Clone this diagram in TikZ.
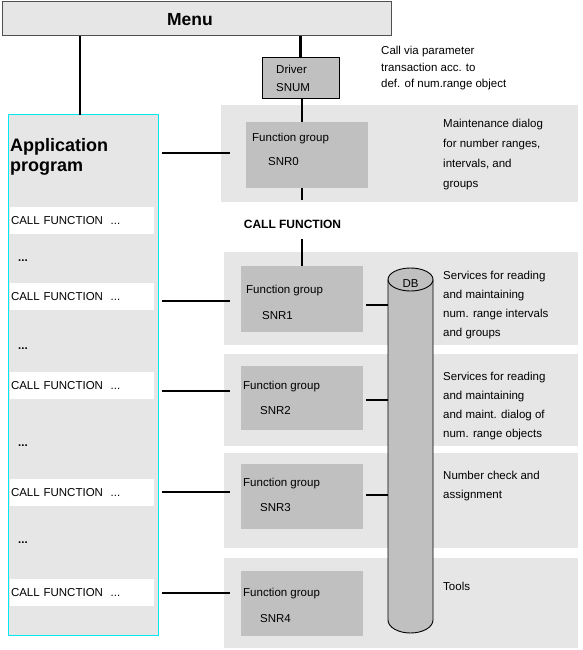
\documentclass[tikz,border=0pt]{standalone}
\usepackage{fontspec}
\setmainfont{Liberation Sans}
\definecolor{lg}{HTML}{E6E6E6}
\definecolor{mg}{HTML}{C0C0C0}
\definecolor{cy}{HTML}{00E8F0}
\definecolor{menuframe}{HTML}{505050}
\begin{document}
\begin{tikzpicture}[x=1pt,y=-1pt,
  box/.style={inner sep=0pt, outer sep=0pt, anchor=north west},
  region/.style={box, fill=lg, draw=none},
  fgbox/.style={box, fill=mg, draw=none},
  strip/.style={box, fill=white, draw=none, minimum width=144, minimum height=27,
    text width=142pt, align=left, inner xsep=1pt, font=\fontsize{11.5}{13}\selectfont},
  txt/.style={inner sep=0pt, anchor=base west, align=left, font=\fontsize{11.5}{19}\selectfont},
  dots/.style={inner sep=0pt, anchor=base west, font=\bfseries\fontsize{11.5}{13}\selectfont},
  conn/.style={line width=2.8pt},
]
\useasboundingbox (0,0) rectangle (583,650);

% Menu
\node[box, fill=lg, draw=menuframe, line width=1pt, minimum width=389, minimum height=34] (menu) at (2,2) {};
\node[inner sep=0pt, font=\bfseries\fontsize{17.5}{20}\selectfont] (menutxt) at (190,19.5) {Menu};

% Application program (base anchor = baseline of last line)
\node[box, fill=lg, draw=cy, line width=1pt, minimum width=150, minimum height=520] (app) at (8,115) {};
\node[txt, font=\bfseries\fontsize{18}{19.5}\selectfont] (apptxt) at (10,171) {Application\\program};
\node[strip] (s1) at (10,207) {CALL FUNCTION\ \ ...};
\node[strip] (s2) at (10,283) {CALL FUNCTION\ \ ...};
\node[strip] (s3) at (10,372) {CALL FUNCTION\ \ ...};
\node[strip] (s4) at (10,479) {CALL FUNCTION\ \ ...};
\node[strip] (s5) at (10,579) {CALL FUNCTION\ \ ...};
\node[dots] (d1) at (18,261) {...};
\node[dots] (d2) at (18,349) {...};
\node[dots] (d3) at (18,446) {...};
\node[dots] (d4) at (18,543) {...};

% Regions
\node[region, minimum width=357, minimum height=97] (r0) at (221,105) {};
\node[region, minimum width=354, minimum height=93] (r1) at (224,252) {};
\node[region, minimum width=354, minimum height=92] (r2) at (224,354) {};
\node[region, minimum width=354, minimum height=95] (r3) at (224,453) {};
\node[region, minimum width=354, minimum height=90] (r4) at (224,558) {};

% Function group boxes
\node[fgbox, minimum width=122, minimum height=66] (fg0) at (246,122) {};
\node[fgbox, minimum width=122, minimum height=66] (fg1) at (241,266) {};
\node[fgbox, minimum width=122, minimum height=64] (fg2) at (241,366) {};
\node[fgbox, minimum width=122, minimum height=65] (fg3) at (241,464) {};
\node[fgbox, minimum width=122, minimum height=65] (fg4) at (241,571) {};
\node[txt, font=\fontsize{11.5}{24}\selectfont] (fg0t) at (252,165) {Function group\\\hspace*{16pt}SNR0};
\node[txt, font=\fontsize{11.5}{26}\selectfont] (fg1t) at (246,319) {Function group\\\hspace*{16pt}SNR1};
\node[txt, font=\fontsize{11.5}{25}\selectfont] (fg2t) at (243,414) {Function group\\\hspace*{17pt}SNR2};
\node[txt, font=\fontsize{11.5}{25}\selectfont] (fg3t) at (243,511) {Function group\\\hspace*{17pt}SNR3};
\node[txt, font=\fontsize{11.5}{26}\selectfont] (fg4t) at (243,622) {Function group\\\hspace*{17pt}SNR4};

% Driver
\node[box, fill=mg, draw=black, line width=0.9pt, minimum width=77, minimum height=41] (driver) at (262,57) {};
\node[txt, font=\fontsize{11.5}{18}\selectfont] (drvt) at (276,92) {Driver\\SNUM};

% Descriptions
\node[txt, font=\fontsize{11.5}{16.5}\selectfont] (calltxt) at (381,88) {Call via parameter\\transaction acc. to\\def. of num.range object};
\node[txt, font=\fontsize{11.5}{20}\selectfont] (desc0) at (443,187.5) {Maintenance dialog\\for number ranges,\\intervals, and\\groups};
\node[txt] (desc1) at (443,336) {Services for reading\\and maintaining\\num. range intervals\\and groups};
\node[txt, font=\fontsize{11.5}{18.7}\selectfont] (desc2) at (443,437) {Services for reading\\and maintaining\\and maint. dialog of\\num. range objects};
\node[txt] (desc3) at (443,498) {Number check and\\assignment};
\node[txt] (desc4) at (443,590) {Tools};

% CALL FUNCTION label
\node[inner sep=0pt, minimum height=30, font=\bfseries\fontsize{12}{14}\selectfont] (cf) at (292.5,224) {CALL FUNCTION};

% DB cylinder
\node[inner sep=0pt, outer sep=0pt, minimum width=45, minimum height=340.5, anchor=north west] (db) at (388,279.5) {};
\fill[mg] (db.north west) -- (db.south west) arc[start angle=180, end angle=360, x radius=22.5pt, y radius=13pt] -- (db.north east) -- cycle;
\draw[line width=0.9pt] (db.north west) -- (db.south west) arc[start angle=180, end angle=360, x radius=22.5pt, y radius=13pt] -- (db.north east);
\filldraw[fill=mg, line width=0.9pt] (db.north) ellipse[x radius=22.5pt, y radius=11.5pt];
\node[inner sep=0pt, font=\fontsize{11.5}{13}\selectfont] (dbt) at (410.5,284) {DB};

% Connector levels
\coordinate (l0) at (0,153);
\coordinate (l1) at (0,301);
\coordinate (l2) at (0,391);
\coordinate (l3) at (0,492);
\coordinate (l4) at (0,593);
\coordinate (m1) at (0,305);
\coordinate (m2) at (0,400);
\coordinate (m3) at (0,495);
\coordinate (vx) at (80,0);
\coordinate (cx) at (302,0);

% Connectors
\draw[conn] (vx |- menu.south) -- (vx |- app.north);
\draw[conn] (driver.north |- menu.south) -- (driver.north);
\draw[conn] (cx |- driver.south) -- (cx |- fg0.north);
\draw[conn, shorten >=9pt] (cx |- fg0.south) -- (cx |- cf.north);
\draw[conn] (cx |- cf.south) -- (cx |- fg1.north);
\draw[conn, shorten <=4pt, shorten >=16pt] (app.east |- l0) -- (fg0.west |- l0);
\draw[conn, shorten <=4pt, shorten >=11pt] (app.east |- l1) -- (fg1.west |- l1);
\draw[conn, shorten <=4pt, shorten >=11pt] (app.east |- l2) -- (fg2.west |- l2);
\draw[conn, shorten <=4pt, shorten >=11pt] (app.east |- l3) -- (fg3.west |- l3);
\draw[conn, shorten <=4pt, shorten >=11pt] (app.east |- l4) -- (fg4.west |- l4);
\draw[conn, shorten <=3pt] (fg1.east |- m1) -- (db.west |- m1);
\draw[conn, shorten <=3pt] (fg2.east |- m2) -- (db.west |- m2);
\draw[conn, shorten <=3pt] (fg3.east |- m3) -- (db.west |- m3);
\end{tikzpicture}
\end{document}
